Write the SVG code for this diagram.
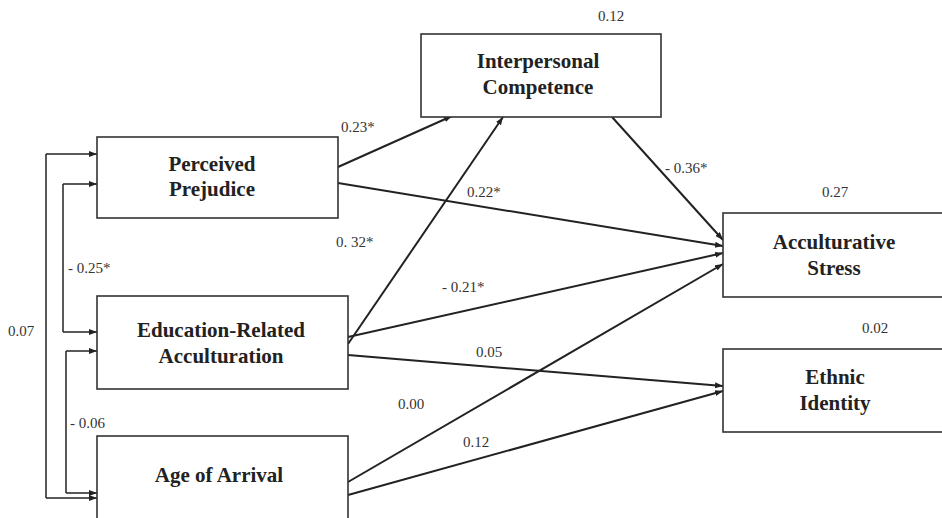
<svg xmlns="http://www.w3.org/2000/svg" width="942" height="518" viewBox="0 0 942 518">
<style>
.box{fill:#fff;stroke:#333;stroke-width:1.6}
.nt{font-family:"Liberation Serif","Times New Roman",serif;font-weight:bold;font-size:21px;fill:#222;text-anchor:middle}
.lb{font-family:"Liberation Serif","Times New Roman",serif;font-size:15px;fill:#333}
.c{fill:none;stroke:#222;stroke-width:2}
.b{fill:none;stroke:#222;stroke-width:1.5}
</style>
<defs>
<marker id="ah" markerUnits="userSpaceOnUse" markerWidth="9" markerHeight="7" refX="8" refY="3" orient="auto">
<path d="M0,0 L8,3 L0,6 z" fill="#222"/>
</marker>
</defs>
<rect x="0" y="0" width="942" height="518" fill="#fff"/>
<g id="connectors">
<path class="c" d="M338,167 L452,116" marker-end="url(#ah)"/>
<path class="c" d="M338,183 L723,246" marker-end="url(#ah)"/>
<path class="c" d="M348,344 L503,117" marker-end="url(#ah)"/>
<path class="c" d="M348,337 L723,253" marker-end="url(#ah)"/>
<path class="c" d="M348,355 L723,386" marker-end="url(#ah)"/>
<path class="c" d="M348,482 L723,264" marker-end="url(#ah)"/>
<path class="c" d="M348,495 L723,391" marker-end="url(#ah)"/>
<path class="c" d="M612,117 L723,240" marker-end="url(#ah)"/>
<path class="b" d="M46,154 L46,498"/>
<path class="b" d="M46,154 L97,154" marker-end="url(#ah)"/>
<path class="b" d="M46,498 L97,498" marker-end="url(#ah)"/>
<path class="b" d="M63,184 L63,332"/>
<path class="b" d="M63,184 L97,184" marker-end="url(#ah)"/>
<path class="b" d="M63,332 L97,332" marker-end="url(#ah)"/>
<path class="b" d="M66,351 L66,493"/>
<path class="b" d="M66,351 L97,351" marker-end="url(#ah)"/>
<path class="b" d="M66,493 L97,493" marker-end="url(#ah)"/>
</g>
<g id="interpersonal-competence">
<rect class="box" x="421" y="34" width="240" height="83"/>
<text class="nt" x="538" y="68">Interpersonal</text>
<text class="nt" x="538" y="94">Competence</text>
</g>
<g id="perceived-prejudice">
<rect class="box" x="97" y="137" width="241" height="81"/>
<text class="nt" x="212" y="171">Perceived</text>
<text class="nt" x="212" y="196">Prejudice</text>
</g>
<g id="education-related-acculturation">
<rect class="box" x="97" y="296" width="251" height="93"/>
<text class="nt" x="221" y="337">Education-Related</text>
<text class="nt" x="221" y="363">Acculturation</text>
</g>
<g id="age-of-arrival">
<rect class="box" x="97" y="436" width="251" height="100"/>
<text class="nt" x="219" y="482">Age of Arrival</text>
</g>
<g id="acculturative-stress">
<rect class="box" x="723" y="213" width="225" height="84"/>
<text class="nt" x="834" y="249">Acculturative</text>
<text class="nt" x="834" y="275">Stress</text>
</g>
<g id="ethnic-identity">
<rect class="box" x="723" y="349" width="225" height="83"/>
<text class="nt" x="835" y="384">Ethnic</text>
<text class="nt" x="835" y="410">Identity</text>
</g>
<g id="labels">
<text class="lb" x="598" y="21">0.12</text>
<text class="lb" x="341" y="132">0.23*</text>
<text class="lb" x="467" y="197">0.22*</text>
<text class="lb" x="336" y="247">0. 32*</text>
<text class="lb" x="665" y="173">- 0.36*</text>
<text class="lb" x="822" y="197">0.27</text>
<text class="lb" x="862" y="333">0.02</text>
<text class="lb" x="442" y="292">- 0.21*</text>
<text class="lb" x="476" y="357">0.05</text>
<text class="lb" x="398" y="409">0.00</text>
<text class="lb" x="463" y="447">0.12</text>
<text class="lb" x="68" y="273">- 0.25*</text>
<text class="lb" x="8" y="336">0.07</text>
<text class="lb" x="70" y="428">- 0.06</text>
</g>
</svg>
